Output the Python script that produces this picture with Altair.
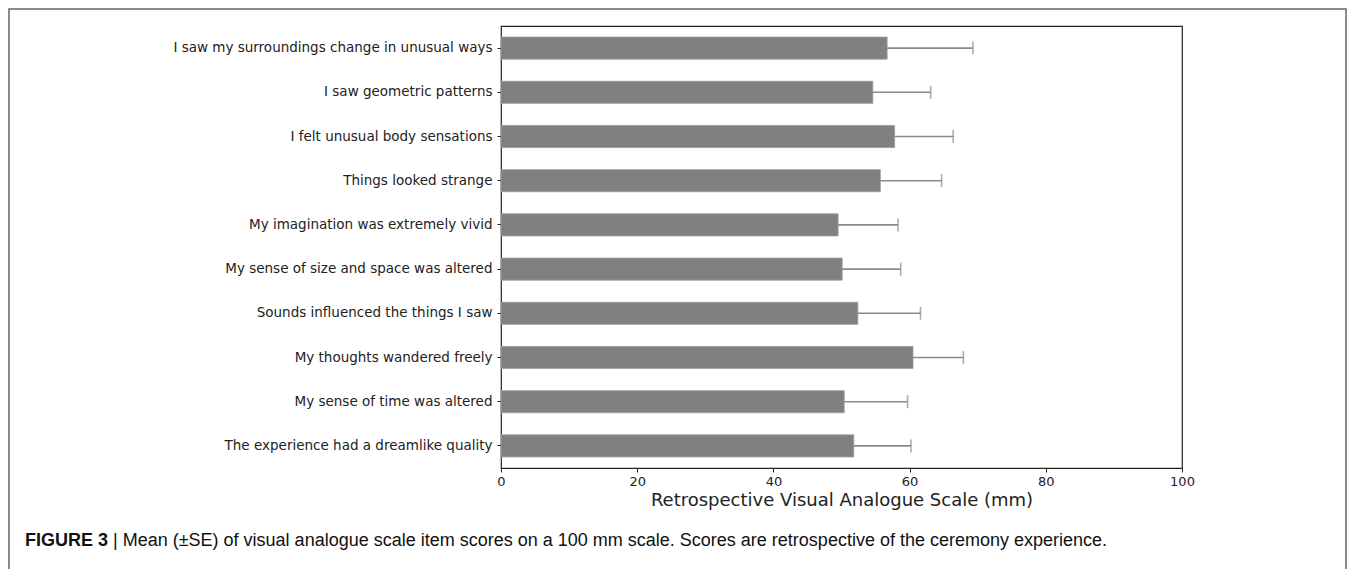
import altair as alt
import pandas as pd

items = [
    "I saw my surroundings change in unusual ways",
    "I saw geometric patterns",
    "I felt unusual body sensations",
    "Things looked strange",
    "My imagination was extremely vivid",
    "My sense of size and space was altered",
    "Sounds influenced the things I saw",
    "My thoughts wandered freely",
    "My sense of time was altered",
    "The experience had a dreamlike quality",
]
means = [56.7, 54.6, 57.8, 55.7, 49.5, 50.1, 52.4, 60.5, 50.4, 51.8]
se = [12.6, 8.5, 8.6, 9.0, 8.8, 8.6, 9.2, 7.4, 9.3, 8.4]
x_ticks = [0, 20, 40, 60, 80, 100]

caption_bold = "FIGURE 3"
caption_rest = "| Mean (±SE) of visual analogue scale item scores on a 100 mm scale. Scores are retrospective of the ceremony experience."

df = pd.DataFrame({"item": items, "mean": means, "se": se})
df["upper"] = df["mean"] + df["se"]

W, H = 681, 442

y_enc = alt.Y("item:N", sort=items, title=None,
              scale=alt.Scale(paddingInner=0.5, paddingOuter=0.25),
              axis=alt.Axis(labelFont="DejaVu Sans", labelFontSize=13.5, labelColor="#222",
                            tickSize=4, tickColor="#222", labelPadding=5, domain=False,
                            labelLimit=500))
x_enc = alt.X("mean:Q", scale=alt.Scale(domain=[0, 100], nice=False),
              title="Retrospective Visual Analogue Scale (mm)",
              axis=alt.Axis(values=x_ticks, grid=False, labelFont="DejaVu Sans", labelFontSize=13,
                            labelColor="#222", tickSize=4, tickColor="#222", labelPadding=3,
                            labelFlush=False,
                            titleFont="DejaVu Sans", titleFontSize=18, titleFontWeight="normal",
                            titleColor="#222", titlePadding=3, domain=False))

base = alt.Chart(df)
bars = base.mark_bar(color="#808080", stroke="#9a9a9a", strokeWidth=0.8).encode(x=x_enc, y=y_enc)
err = base.mark_rule(color="#8a8a8a", strokeWidth=1.6).encode(x="mean:Q", x2="upper:Q", y=alt.Y("item:N", sort=items))
caps = base.mark_tick(color="#8a8a8a", thickness=1.6, size=13).encode(x="upper:Q", y=alt.Y("item:N", sort=items))

one = alt.Chart(pd.DataFrame({"k": [1]}))
frame = one.mark_rect(filled=False, stroke="#666", strokeWidth=1.5).encode(
    x=alt.value(-492), x2=alt.value(845), y=alt.value(-17), y2=alt.value(600))
cap1 = one.mark_text(align="left", baseline="middle", font="Liberation Sans", fontSize=18,
                     fontWeight="bold", color="#111").encode(
    x=alt.value(-476), y=alt.value(515), text=alt.value(caption_bold))
cap2 = one.mark_text(align="left", baseline="middle", font="Liberation Sans", fontSize=18,
                     color="#111").encode(
    x=alt.value(-388), y=alt.value(515), text=alt.value(caption_rest))

chart = alt.layer(bars, err, caps, frame, cap1, cap2).properties(
    width=W, height=H,
    autosize=alt.AutoSizeParams(type="none"),
    padding={"left": 493, "top": 18, "right": 165, "bottom": 101},
).configure(background="white").configure_view(stroke="#222", strokeWidth=1.2)

chart.save("out.html", embed_options={"renderer": "svg", "actions": False})
